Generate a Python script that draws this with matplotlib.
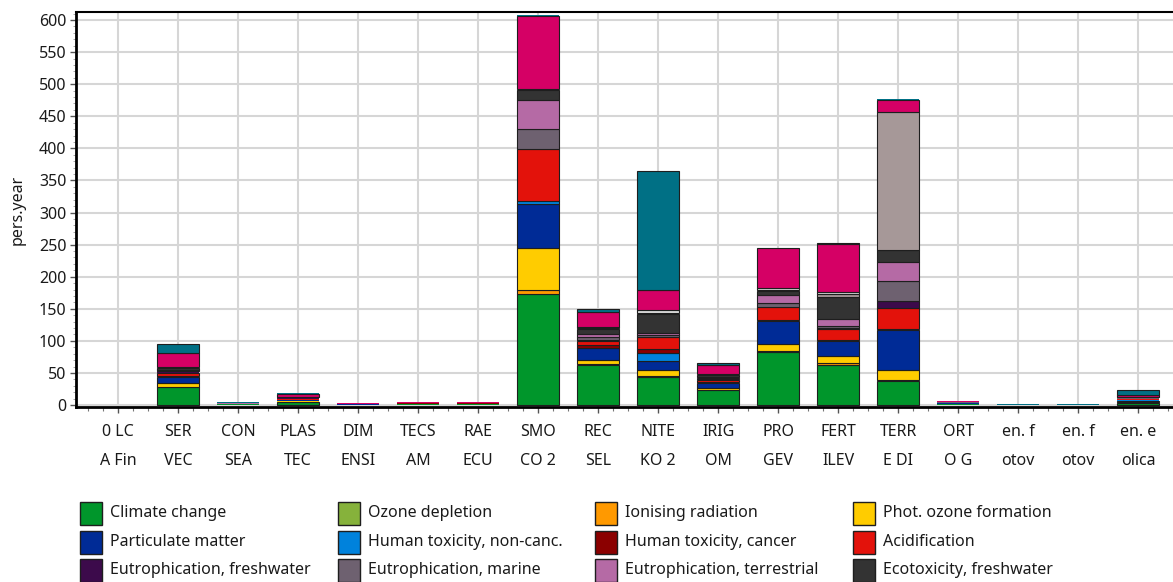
import numpy as np
import matplotlib
matplotlib.use("Agg")
import matplotlib.pyplot as plt
from matplotlib.patches import Rectangle
from matplotlib.ticker import MultipleLocator

plt.rcParams["font.family"] = ["Noto Sans", "DejaVu Sans"]

# Product stages on the x axis (labels wrapped on two lines)
categories = ["0 LC\nA Fin", "SER\nVEC", "CON\nSEA", "PLAS\nTEC", "DIM\nENSI", "TECS\nAM",
              "RAE\nECU", "SMO\nCO 2", "REC\nSEL", "NITE\nKO 2", "IRIG\nOM", "PRO\nGEV",
              "FERT\nILEV", "TERR\nE DI", "ORT\nO G", "en. f\notov", "en. f\notov", "en. e\nolica"]

# Normalised impact scores (pers.year) per impact category
climate_change = [0, 27.6, 0.8, 5, 0.3, 1, 1, 173, 62.8, 43.5, 23.4, 82, 62.8, 37, 1.5, 0.1, 0.1, 3.6]
ozone_depletion = [0, 0.1, 0, 0, 0, 0, 0, 0.5, 0.3, 0.3, 0.1, 0.3, 0.3, 0.2, 0, 0, 0, 0]
ionising_radiation = [0, 0.5, 0, 0.2, 0, 0, 0, 6, 1, 2, 0.5, 2, 2, 1, 0, 0, 0, 0.2]
phot_ozone = [0, 5.7, 0.2, 1, 0.2, 0.3, 0.3, 65, 5.9, 9, 2.5, 11.5, 11.5, 16.6, 0.5, 0, 0, 0.8]
particulate = [0, 10, 0.4, 1.5, 1, 0.8, 0.8, 69, 18.3, 14.5, 7.5, 35, 22.8, 62, 1, 0.1, 0.1, 2]
ht_noncanc = [0, 0.5, 0.1, 0.2, 0.5, 0.2, 0.2, 4, 0.8, 12.5, 0.5, 1, 1, 1, 0.3, 0.1, 0.1, 0.5]
ht_cancer = [0, 1, 0.1, 0.5, 0.1, 0.1, 0.1, 0.5, 3.9, 5.7, 1, 0.5, 0.5, 0.5, 0.1, 0, 0, 1]
acidification = [0, 5, 0.3, 1.5, 0.2, 0.4, 0.4, 81, 7, 18, 4, 20, 17, 33, 0.4, 0, 0, 1]
eutro_fresh = [0, 0.5, 0.1, 0.3, 0, 0.1, 0.1, 0.5, 1.5, 1, 0.3, 1, 2, 10.4, 0.1, 0, 0, 0.3]
eutro_marine = [0, 1.5, 0.2, 0.5, 0, 0.2, 0.2, 30, 5, 2, 2, 6, 3, 32, 0.2, 0, 0, 1]
eutro_terr = [0, 2.5, 0.2, 0.5, 0, 0.2, 0.2, 45.7, 4, 4, 1.5, 12.5, 10.5, 29.7, 0.2, 0, 0, 0.5]
ecotox_fresh = [0, 2.5, 0.2, 1.5, 0, 0.3, 0.3, 15.6, 8.5, 30, 3, 6, 35, 18, 0.3, 0, 0, 1]
land_use = [0, 0.5, 0.1, 0.2, 0, 0.1, 0.1, 0.5, 1, 1, 0.5, 1, 4, 215, 0.1, 0, 0, 0.3]
water_use = [0, 1, 0.1, 0.3, 0, 0.1, 0.1, 0.5, 2, 4, 1, 4, 3, 1, 0.1, 0, 0, 0.3]
res_fossils = [0, 22, 1, 4, 0.2, 0.6, 0.6, 115, 23, 31, 14.5, 62, 75, 18.5, 1.5, 0.1, 0.1, 3.2]
res_minerals = [0, 13.5, 0.5, 1, 0.2, 0.3, 0.3, 1, 4, 186, 2.5, 0.5, 2, 1.5, 0.6, 0.6, 0.6, 7.7]

impact_labels = ["Climate change", "Ozone depletion", "Ionising radiation", "Phot. ozone formation",
                 "Particulate matter", "Human toxicity, non-canc.", "Human toxicity, cancer", "Acidification",
                 "Eutrophication, freshwater", "Eutrophication, marine", "Eutrophication, terrestrial",
                 "Ecotoxicity, freshwater", "Land use", "Water use", "Resource use, fossils",
                 "Resource use, minerals and metals"]
impact_values = [climate_change, ozone_depletion, ionising_radiation, phot_ozone, particulate,
                 ht_noncanc, ht_cancer, acidification, eutro_fresh, eutro_marine, eutro_terr,
                 ecotox_fresh, land_use, water_use, res_fossils, res_minerals]
impact_colors = ["#00962b", "#86b23b", "#ff9900", "#ffcc00", "#002b96", "#0082dc", "#8b0000",
                 "#e3120b", "#3c0a4b", "#6e6170", "#b56aa5", "#333333", "#a69898", "#dedede",
                 "#d50065", "#007085"]

fig = plt.figure(figsize=(11.73, 5.82), dpi=100)
W, H = 1173, 582
ax = fig.add_axes([76 / W, 1 - 407 / H, (W - 76) / W, (407 - 12) / H])

x = np.arange(len(categories))
bottom = np.zeros(len(categories))
for vals, col in zip(impact_values, impact_colors):
    v = np.asarray(vals, dtype=float)
    # outline only segments tall enough to carry a visible border
    lw = np.where(v >= 2.0, 0.8, 0.0)
    ax.bar(x, v, width=0.7, bottom=bottom, color=col, edgecolor="#1e1e1e",
           linewidth=lw, zorder=3)
    bottom += v

ax.set_xlim(-0.7, 17.58)
ax.set_ylim(-3.1, 612.5)

ax.yaxis.set_major_locator(MultipleLocator(50))
ax.yaxis.set_minor_locator(MultipleLocator(10))
ax.set_xticks(x)
ax.set_xticks(np.arange(-0.5, 17.6, 0.25), minor=True)
ax.set_xticklabels(categories, linespacing=2.15)

ax.grid(True, which="major", color="#d6d6d6", linewidth=1.5, zorder=0)
ax.set_axisbelow(True)

ax.tick_params(axis="x", which="major", length=4, width=1, color="#555555", pad=8,
               labelsize=11.5, labelcolor="#1a1a1a")
ax.tick_params(axis="x", which="minor", length=3, width=0.8, color="#777777")
ax.tick_params(axis="y", which="major", length=4, width=1, color="#555555", pad=3,
               labelsize=11.5, labelcolor="#1a1a1a")
ax.tick_params(axis="y", which="minor", length=2, width=0.6, color="#999999")

for side in ("left", "bottom"):
    ax.spines[side].set_linewidth(2)
    ax.spines[side].set_color("black")
ax.spines["top"].set_linewidth(1.5)
ax.spines["right"].set_visible(False)

ax.set_ylabel("pers.year", fontsize=11.5, color="#1a1a1a")
ax.yaxis.set_label_coords((26 - 76) / (W - 76), 0.5)

# Legend grid below the plot: 4 columns, three rows fit on the canvas
col_x = [80, 337.5, 595, 852.5]
row_y = [513, 542, 570]
n_shown = len(col_x) * len(row_y)
for i, (lab, col) in enumerate(zip(impact_labels[:n_shown], impact_colors[:n_shown])):
    r, c = divmod(i, 4)
    px, py = col_x[c], row_y[r]
    fig.add_artist(Rectangle((px / W, 1 - (py + 11.5) / H), 22 / W, 23 / H,
                             transform=fig.transFigure, facecolor=col,
                             edgecolor="#1e1e1e", linewidth=1))
    fig.text((px + 30) / W, 1 - py / H, lab, fontsize=11.5, color="#1a1a1a",
             va="center", ha="left")

fig.savefig("out.png", dpi=100)
